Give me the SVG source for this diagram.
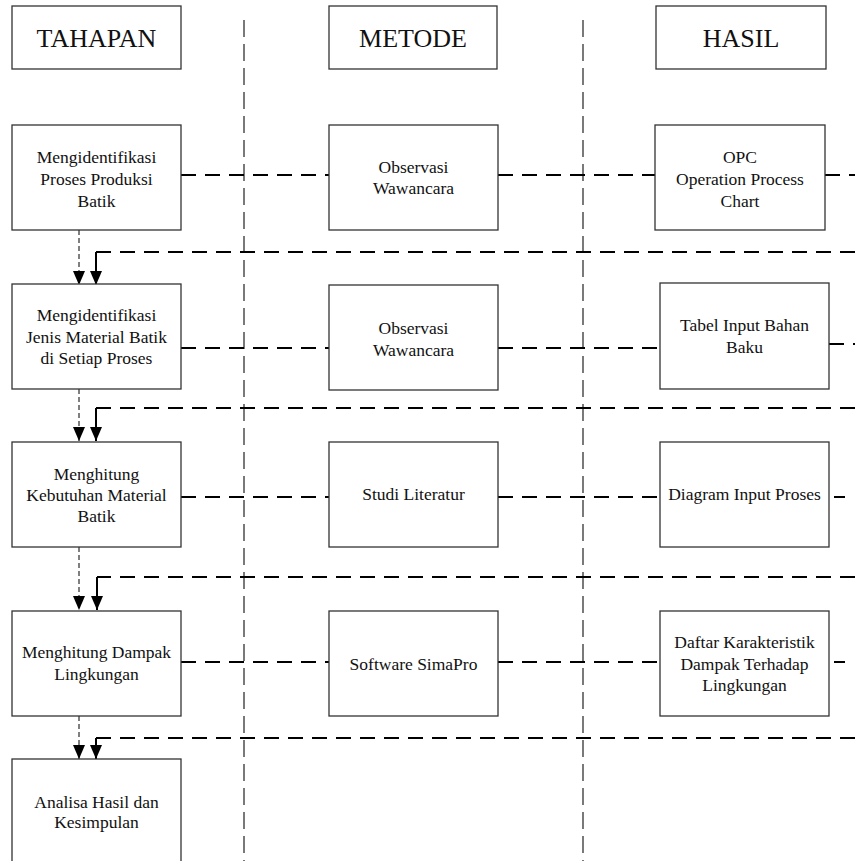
<svg xmlns="http://www.w3.org/2000/svg" width="855" height="861" viewBox="0 0 855 861">
<style>
.box{fill:#fff;stroke:#333;stroke-width:1.3}
.t{font-size:17.5px;fill:#111;text-anchor:middle}
.h{font-size:26px;fill:#111;text-anchor:middle}
.sep{stroke:#333;stroke-width:1.3;stroke-dasharray:17 7;fill:none}
.dl{stroke:#000;stroke-width:2;stroke-dasharray:15 9;fill:none}
.down{stroke:#555;stroke-width:1.5;stroke-dasharray:5 3;fill:none}
.solid{stroke:#000;stroke-width:2;fill:none}
</style>
<defs>
<marker id="ah2" markerUnits="userSpaceOnUse" markerWidth="16" markerHeight="13" refX="14" refY="6.5" orient="auto">
<path d="M0,0.5 L14,6.5 L0,12.5 Z" fill="#000"/>
</marker>
</defs>
<rect width="855" height="861" fill="#fff"/>

<g id="connectors">
<line class="sep" x1="244" y1="20" x2="244" y2="861"/>
<line class="sep" x1="583" y1="20" x2="583" y2="861"/>
<line class="dl" x1="181" y1="175" x2="329" y2="175"/>
<line class="dl" x1="498" y1="175" x2="655" y2="175"/>
<line class="dl" x1="825" y1="175" x2="855" y2="175"/>
<line class="dl" x1="181" y1="348" x2="329" y2="348"/>
<line class="dl" x1="498" y1="348" x2="660" y2="348"/>
<line class="dl" x1="829" y1="344" x2="855" y2="344"/>
<line class="dl" x1="181" y1="497" x2="329" y2="497"/>
<line class="dl" x1="498" y1="497" x2="660" y2="497"/>
<line class="dl" x1="834" y1="497" x2="855" y2="497" style="stroke-dasharray:11 12"/>
<line class="dl" x1="181" y1="662" x2="329" y2="662"/>
<line class="dl" x1="498" y1="662" x2="660" y2="662"/>
<line class="dl" x1="834" y1="662" x2="855" y2="662" style="stroke-dasharray:11 12"/>
<path class="dl" d="M855,252 H96"/>
<path class="solid" d="M96,252 V285" marker-end="url(#ah2)"/>
<path class="dl" d="M855,408 H96"/>
<path class="solid" d="M96,408 V441" marker-end="url(#ah2)"/>
<path class="dl" d="M855,577 H97"/>
<path class="solid" d="M97,577 V610" marker-end="url(#ah2)"/>
<path class="dl" d="M855,738 H96"/>
<path class="solid" d="M96,738 V759" marker-end="url(#ah2)"/>
<path class="down" d="M79,230 V285" marker-end="url(#ah2)"/>
<path class="down" d="M79,389 V441" marker-end="url(#ah2)"/>
<path class="down" d="M79,547 V610" marker-end="url(#ah2)"/>
<path class="down" d="M79,716 V759" marker-end="url(#ah2)"/>
</g>

<g font-family="Liberation Serif, Tinos, Times New Roman, DejaVu Serif, serif">
<g id="h-tahapan"><rect class="box" x="12" y="6" width="169" height="63"/><text class="h" x="96.5" y="46.5">TAHAPAN</text></g>
<g id="h-metode"><rect class="box" x="329" y="6" width="168" height="63"/><text class="h" x="413" y="46.5">METODE</text></g>
<g id="h-hasil"><rect class="box" x="656" y="6" width="170" height="63"/><text class="h" x="741" y="46.5">HASIL</text></g>

<g id="t1"><rect class="box" x="12" y="125" width="169" height="105"/>
<text class="t" x="96.5" y="163">Mengidentifikasi</text><text class="t" x="96.5" y="185">Proses Produksi</text><text class="t" x="96.5" y="207">Batik</text></g>
<g id="m1"><rect class="box" x="329" y="125" width="169" height="105"/>
<text class="t" x="413.5" y="172.5">Observasi</text><text class="t" x="413.5" y="194">Wawancara</text></g>
<g id="r1"><rect class="box" x="655" y="125" width="170" height="105"/>
<text class="t" x="740" y="163">OPC</text><text class="t" x="740" y="185">Operation Process</text><text class="t" x="740" y="207">Chart</text></g>

<g id="t2"><rect class="box" x="12" y="284" width="169" height="105"/>
<text class="t" x="96.5" y="321">Mengidentifikasi</text><text class="t" x="96.5" y="342.5">Jenis Material Batik</text><text class="t" x="96.5" y="364">di Setiap Proses</text></g>
<g id="m2"><rect class="box" x="329" y="285" width="169" height="105"/>
<text class="t" x="413.5" y="334">Observasi</text><text class="t" x="413.5" y="355.5">Wawancara</text></g>
<g id="r2"><rect class="box" x="660" y="283" width="169" height="106"/>
<text class="t" x="744.5" y="331">Tabel Input Bahan</text><text class="t" x="744.5" y="352.5">Baku</text></g>

<g id="t3"><rect class="box" x="12" y="442" width="169" height="105"/>
<text class="t" x="96.5" y="479.5">Menghitung</text><text class="t" x="96.5" y="500.5">Kebutuhan Material</text><text class="t" x="96.5" y="521.5">Batik</text></g>
<g id="m3"><rect class="box" x="329" y="442" width="169" height="105"/>
<text class="t" x="413.5" y="500">Studi Literatur</text></g>
<g id="r3"><rect class="box" x="660" y="442" width="169" height="105"/>
<text class="t" x="744.5" y="500">Diagram Input Proses</text></g>

<g id="t4"><rect class="box" x="12" y="611" width="169" height="105"/>
<text class="t" x="96.5" y="658">Menghitung Dampak</text><text class="t" x="96.5" y="679.5">Lingkungan</text></g>
<g id="m4"><rect class="box" x="329" y="611" width="169" height="105"/>
<text class="t" x="413.5" y="670">Software SimaPro</text></g>
<g id="r4"><rect class="box" x="660" y="611" width="169" height="105"/>
<text class="t" x="744.5" y="648">Daftar Karakteristik</text><text class="t" x="744.5" y="670">Dampak Terhadap</text><text class="t" x="744.5" y="691">Lingkungan</text></g>

<g id="t5"><rect class="box" x="12" y="759" width="169" height="120"/>
<text class="t" x="96.5" y="808">Analisa Hasil dan</text><text class="t" x="96.5" y="828">Kesimpulan</text></g>
</g>
</svg>
